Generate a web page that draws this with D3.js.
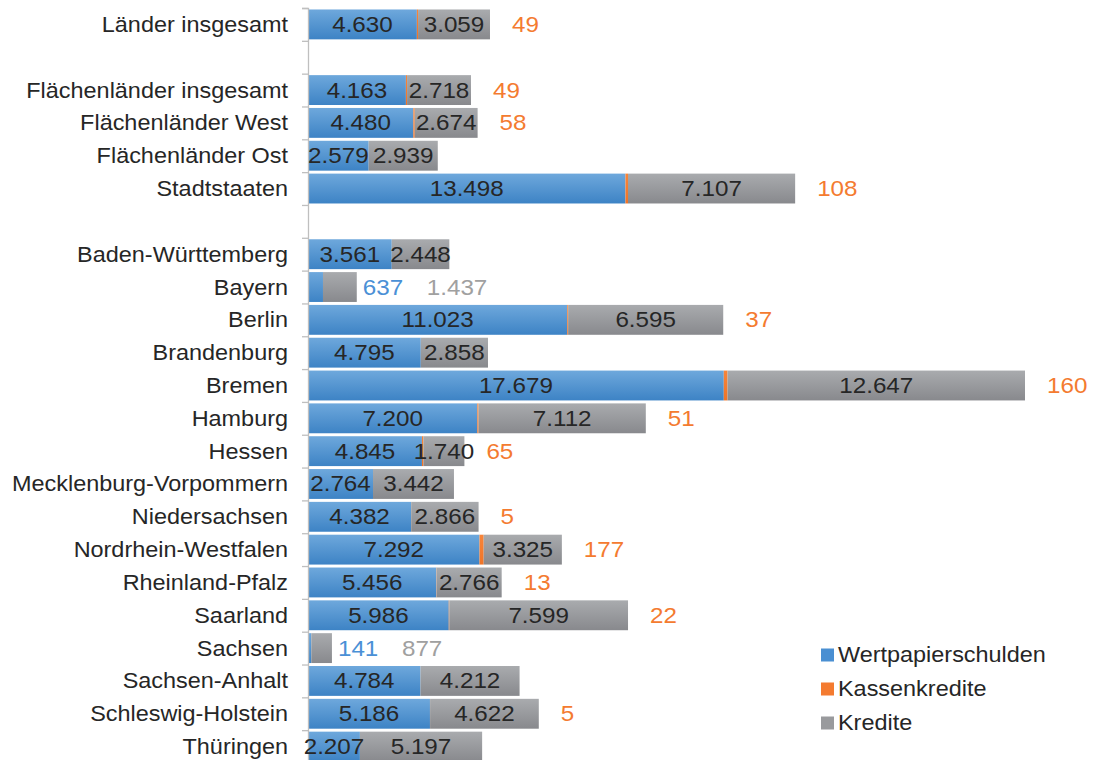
<!DOCTYPE html>
<html>
<head>
<meta charset="utf-8">
<script src="https://cdn.jsdelivr.net/npm/d3@7"></script>
<style>
    body { margin: 0; background: #fff; }
    text { font-family: "Liberation Sans", Arial, sans-serif; }
</style>
</head>
<body>
<svg id="chart"></svg>
<script>
// categories, "" = empty spacer row
const categories = [
    "Länder insgesamt", "",
    "Flächenländer insgesamt", "Flächenländer West", "Flächenländer Ost", "Stadtstaaten", "",
    "Baden-Württemberg", "Bayern", "Berlin", "Brandenburg", "Bremen", "Hamburg", "Hessen",
    "Mecklenburg-Vorpommern", "Niedersachsen", "Nordrhein-Westfalen", "Rheinland-Pfalz",
    "Saarland", "Sachsen", "Sachsen-Anhalt", "Schleswig-Holstein", "Thüringen"
];
const wertpapierschulden = [4630, null, 4163, 4480, 2579, 13498, null, 3561, 637, 11023, 4795, 17679, 7200, 4845, 2764, 4382, 7292, 5456, 5986, 141, 4784, 5186, 2207];
const kassenkredite = [49, null, 49, 58, 0, 108, null, 0, 0, 37, 0, 160, 51, 65, 0, 5, 177, 13, 22, 0, 0, 5, 0];
const kredite = [3059, null, 2718, 2674, 2939, 7107, null, 2448, 1437, 6595, 2858, 12647, 7112, 1740, 3442, 2866, 3325, 2766, 7599, 877, 4212, 4622, 5197];
const seriesNames = ["Wertpapierschulden", "Kassenkredite", "Kredite"];

const config = {
    width: 1105,
    height: 760,
    axisX: 308,
    top: 8,
    bottom: 763,
    right: 1025,
    sxLabel: 1.065,  // horizontal stretch of the original text
    sxValue: 1.1,
    fontSize: 22
};

const svg = d3.select("#chart")
    .attr("width", config.width)
    .attr("height", config.height);

const defs = svg.append("defs");
function grad(id, top, bottom) {
    const g = defs.append("linearGradient").attr("id", id)
        .attr("x1", 0).attr("y1", 0).attr("x2", 0).attr("y2", 1);
    g.append("stop").attr("offset", "0%").attr("stop-color", top);
    g.append("stop").attr("offset", "100%").attr("stop-color", bottom);
}
grad("gBlue", "#6ea8dc", "#3d83c5");
grad("gOrange", "#f8853a", "#ef7428");
grad("gGray", "#a9abae", "#88898d");
const fills = ["url(#gBlue)", "url(#gOrange)", "url(#gGray)"];
const legendColors = ["#4a8fd2", "#f47b30", "#999a9d"];

const rows = categories.map((c, i) => ({
    i: i, name: c,
    v: [wertpapierschulden[i], kassenkredite[i], kredite[i]]
})).filter(d => d.v[0] !== null);

const maxTotal = d3.max(rows, d => d3.sum(d.v));

const xScale = d3.scaleLinear().domain([0, maxTotal]).range([config.axisX, config.right]);
const yScale = d3.scaleBand()
    .domain(d3.range(categories.length))
    .range([config.top, config.bottom])
    .paddingInner(0.09)
    .paddingOuter(0.045);
const yIdx = d3.scaleLinear().domain([0, categories.length]).range([config.top, config.bottom]);

// stacked segments
const stack = d3.stack().keys([0, 1, 2]).value((d, k) => d.v[k]);
const stacked = stack(rows);

stacked.forEach((layer, k) => {
    svg.append("g").selectAll("rect")
        .data(layer)
        .join("rect")
        .attr("x", d => xScale(d[0]))
        .attr("width", d => xScale(d[1]) - xScale(d[0]))
        .attr("y", d => yScale(d.data.i))
        .attr("height", yScale.bandwidth())
        .attr("fill", fills[k]);
});

// axis with ticks at band boundaries
const axisG = svg.append("g").attr("transform", `translate(${config.axisX},0)`)
    .call(d3.axisLeft(yIdx).tickValues(d3.range(categories.length + 1)).tickSize(6).tickFormat(""));
axisG.selectAll("path, line").attr("stroke", "#bfbfbf").attr("stroke-width", 1.3);

// category labels
const labelG = svg.append("g").attr("transform", `translate(${config.axisX},0)`)
    .call(d3.axisLeft(yScale).tickSize(0).tickPadding(0).tickFormat(i => categories[i]));
labelG.select(".domain").remove();
labelG.selectAll("text")
    .attr("x", -20 / config.sxLabel)
    .attr("dy", "0.34em")
    .attr("transform", `scale(${config.sxLabel},1)`)
    .attr("font-size", config.fontSize)
    .attr("font-family", "Liberation Sans, Arial, sans-serif")
    .attr("fill", "#262626");

function addText(x, y, txt, color, anchor) {
    svg.append("text")
        .attr("transform", `translate(${x},${y}) scale(${config.sxValue},1)`)
        .attr("dy", "0.34em")
        .attr("text-anchor", anchor)
        .attr("font-size", config.fontSize)
        .attr("fill", color)
        .text(txt);
}

const fmt = d3.formatLocale({ decimal: ",", thousands: ".", grouping: [3], currency: ["", "€"] }).format(",d");

rows.forEach(d => {
    const cy = yScale(d.i) + yScale.bandwidth() / 2;
    const [w, k, c] = d.v;
    const x0 = xScale(0), x1 = xScale(w), x2 = xScale(w + k), x3 = xScale(w + k + c);
    if (x1 - x0 < 40) {
        // too narrow: labels next to the bar
        addText(x3 + 6, cy, fmt(w), "#4a90d6", "start");
        addText(x3 + 70, cy, fmt(c), "#a0a0a0", "start");
    } else {
        addText((x0 + x1) / 2, cy, fmt(w), "#262626", "middle");
        addText((x2 + x3) / 2, cy, fmt(c), "#262626", "middle");
    }
    if (k > 0) addText(x3 + 22, cy, fmt(k), "#f47b30", "start");
});

// legend
const legend = svg.append("g").attr("transform", "translate(821,655)");
seriesNames.forEach((s, i) => {
    legend.append("rect")
        .attr("x", 0).attr("y", i * 34 - 6.5)
        .attr("width", 13).attr("height", 13)
        .attr("fill", legendColors[i]);
    legend.append("text")
        .attr("transform", `translate(17,${i * 34}) scale(${config.sxLabel},1)`)
        .attr("dy", "0.34em")
        .attr("font-size", config.fontSize)
        .attr("fill", "#262626")
        .text(s);
});
</script>
</body>
</html>
